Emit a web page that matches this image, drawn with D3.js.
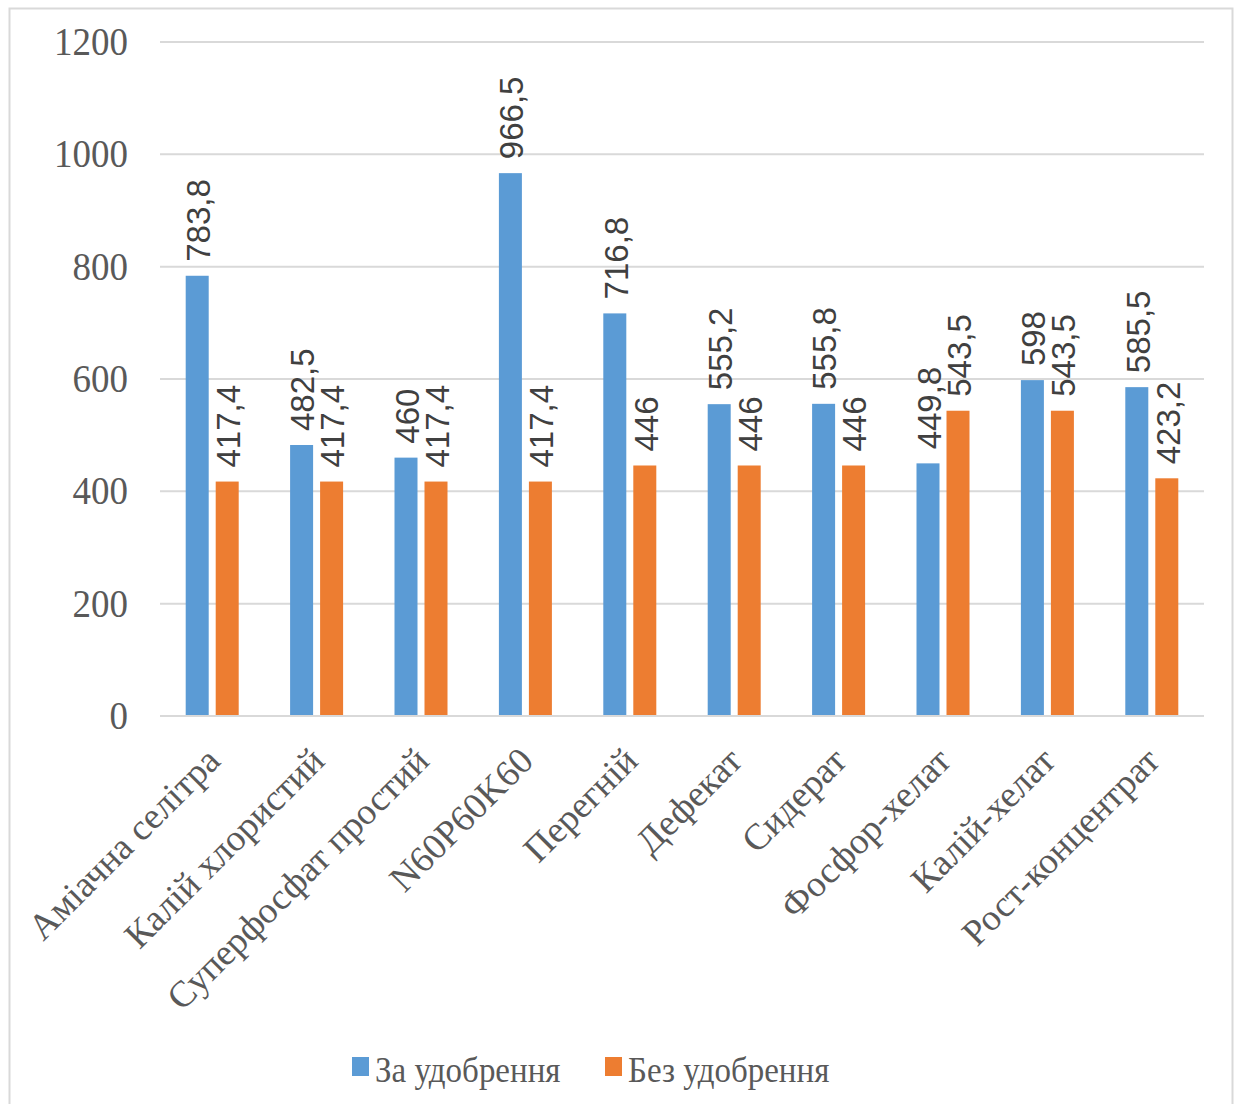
<!DOCTYPE html>
<html>
<head>
<meta charset="utf-8">
<script src="https://cdn.jsdelivr.net/npm/d3@7"></script>
<style>
html,body{margin:0;padding:0;background:#fff;}
svg{display:block;}
</style>
</head>
<body>
<svg id="chart" width="1235" height="1104"></svg>
<script>
const categories = ["Аміачна селітра","Калій хлористий","Суперфосфат простий","N60P60K60","Перегній","Дефекат","Сидерат","Фосфор-хелат","Калій-хелат","Рост-концентрат"];
const seriesNames = ["За удобрення","Без удобрення"];
const withFert = [783.8, 482.5, 460, 966.5, 716.8, 555.2, 555.8, 449.8, 598, 585.5];
const withoutFert = [417.4, 417.4, 417.4, 417.4, 446, 446, 446, 543.5, 543.5, 423.2];
const yTicks = [0, 200, 400, 600, 800, 1000, 1200];
const colors = ["#5b9bd5", "#ed7d31"];

(function () {
const svg = d3.select("#chart");
const pLeft = 160, pRight = 1204, pTop = 42, pBottom = 716;

// frame
svg.append("rect").attr("x", 9.5).attr("y", 8.5).attr("width", 1223).attr("height", 1110)
  .attr("fill", "#fff").attr("stroke", "#d9d9d9").attr("stroke-width", 2);

const x = d3.scaleBand().domain(categories).range([pLeft, pRight]).paddingInner(0).paddingOuter(0);
const y = d3.scaleLinear().domain([0, 1200]).range([pBottom, pTop]);

// gridlines
svg.append("g").selectAll("line").data(yTicks.filter(d => d > 0)).join("line")
  .attr("x1", pLeft).attr("x2", pRight)
  .attr("y1", d => y(d)).attr("y2", d => y(d))
  .attr("stroke", "#d9d9d9").attr("stroke-width", 2);

// y axis labels
const yAxis = d3.axisLeft(y).tickValues(yTicks).tickSize(0).tickPadding(32).tickFormat(d3.format("d"));
const gy = svg.append("g").attr("transform", `translate(${pLeft},0)`).call(yAxis);
gy.select(".domain").remove();
gy.selectAll("text").attr("font-family", "'Liberation Serif', 'Times New Roman', serif")
  .attr("font-size", 37).attr("fill", "#595959").attr("dy", "0.31em")
  .attr("transform", "scale(1,1.1)");

const data = categories.map((c, i) => ({cat: c, vals: [withFert[i], withoutFert[i]]}));
const barW = 23, gap = 7;

const groups = svg.append("g").selectAll("g").data(data).join("g")
  .attr("transform", d => `translate(${x(d.cat) + x.bandwidth()/2 - (2*barW+gap)/2},0)`);

groups.selectAll("rect").data(d => d.vals.map((v, j) => ({v, j}))).join("rect")
  .attr("x", d => d.j * (barW + gap))
  .attr("width", barW)
  .attr("y", d => y(d.v))
  .attr("height", d => y(0) - y(d.v))
  .attr("fill", d => colors[d.j]);

groups.selectAll("text").data(d => d.vals.map((v, j) => ({v, j}))).join("text")
  .attr("transform", d => `translate(${d.j * (barW + gap) + barW/2 + 1},${y(d.v) - 14}) rotate(-90)`)
  .attr("text-anchor", "start")
  .attr("dy", "0.36em")
  .attr("font-family", "'Liberation Sans', Arial, sans-serif")
  .attr("font-size", 33)
  .attr("fill", "#404040")
  .text(d => String(d.v).replace(".", ","));

// x axis line
svg.append("line").attr("x1", pLeft).attr("x2", pRight).attr("y1", pBottom).attr("y2", pBottom)
  .attr("stroke", "#d9d9d9").attr("stroke-width", 2);

// x axis labels
const xAxis = d3.axisBottom(x).tickSize(0).tickPadding(0);
const gx = svg.append("g").attr("transform", `translate(0,${pBottom})`).call(xAxis);
gx.select(".domain").remove();
gx.selectAll("text")
  .attr("font-family", "'Liberation Serif', 'Times New Roman', serif")
  .attr("font-size", 37).attr("fill", "#595959")
  .attr("text-anchor", "end")
  .attr("dy", null).attr("y", null)
  .attr("transform", "translate(10,47) rotate(-45)");

// legend
const legend = svg.append("g");
const legendX = [352, 605];
seriesNames.forEach((s, i) => {
  legend.append("rect").attr("x", legendX[i]).attr("y", 1057).attr("width", 17).attr("height", 19).attr("fill", colors[i]);
  legend.append("text").attr("transform", `translate(${legendX[i] + 23},1082) scale(1,1.1)`)
    .attr("font-family", "'Liberation Serif', 'Times New Roman', serif")
    .attr("font-size", 33).attr("fill", "#595959").text(s);
});
})();
</script>
</body>
</html>
